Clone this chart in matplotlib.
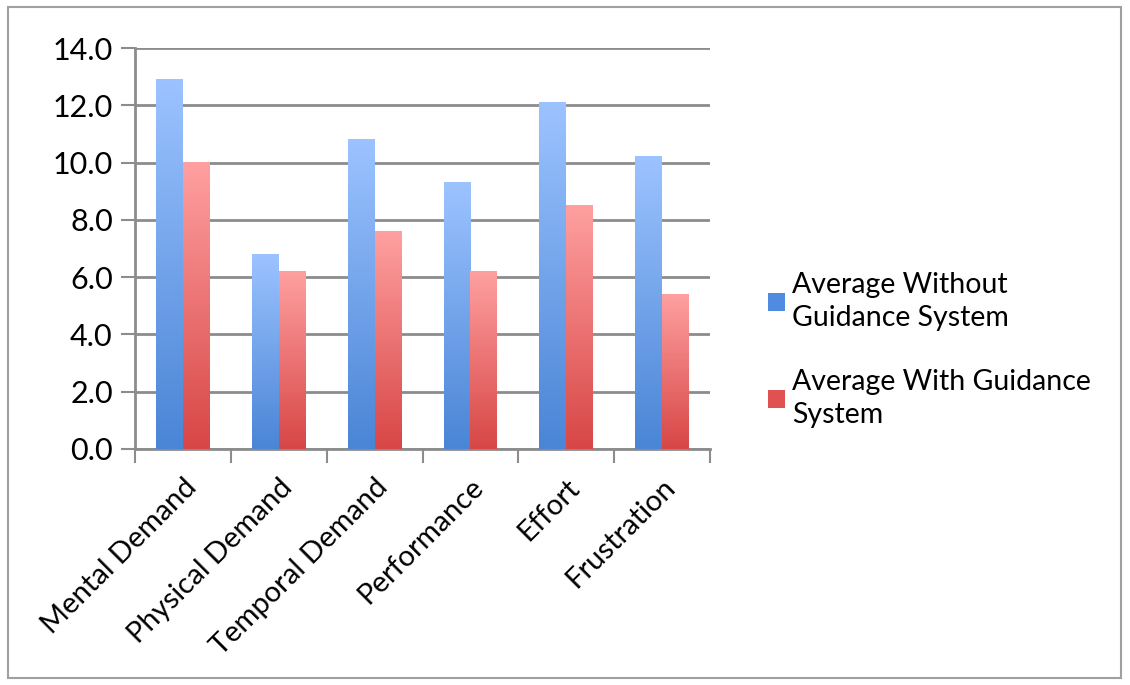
import numpy as np
import matplotlib
matplotlib.use("Agg")
import matplotlib.pyplot as plt
from matplotlib.patches import Rectangle, Patch
from matplotlib.colors import to_rgb

categories = ["Mental Demand", "Physical Demand", "Temporal Demand",
              "Performance", "Effort", "Frustration"]
without_guidance = [12.9, 6.8, 10.8, 9.3, 12.1, 10.2]
with_guidance = [10.0, 6.2, 7.6, 6.2, 8.5, 5.4]
series_labels = ["Average Without\nGuidance System",
                 "Average With Guidance\nSystem"]
yticks = [0, 2, 4, 6, 8, 10, 12, 14]

plt.rcParams['font.family'] = ['Lato', 'DejaVu Sans']

blue_top, blue_bot = "#9cc3ff", "#4a85d6"
red_top, red_bot = "#ffa0a0", "#d84646"
grid_col = "#8c8c8c"


def gradient_bars(ax, bars, top, bottom):
    c0 = np.array(to_rgb(bottom))
    c1 = np.array(to_rgb(top))
    t = np.linspace(0, 1, 200)[:, None, None]
    img = c0 + (c1 - c0) * t
    for b in bars:
        x0 = b.get_x()
        w = b.get_width()
        h = b.get_height()
        b.set_facecolor("none")
        b.set_edgecolor("none")
        ax.imshow(img, extent=[x0, x0 + w, 0, h], origin="lower",
                  aspect="auto", zorder=3, interpolation="bilinear")


fig = plt.figure(figsize=(11.3, 6.85), dpi=100)
ax = fig.add_axes([135 / 1130, 1 - 449 / 685, 575 / 1130, 401 / 685])

x = np.arange(len(categories))
w = 0.28
b1 = ax.bar(x - w / 2, without_guidance, w, zorder=3)
b2 = ax.bar(x + w / 2, with_guidance, w, zorder=3)
gradient_bars(ax, b1, blue_top, blue_bot)
gradient_bars(ax, b2, red_top, red_bot)

ax.set_xlim(-0.5, len(categories) - 0.5)
ax.set_ylim(0, 14)
ax.set_yticks(yticks)
ax.set_yticklabels([f"{v:.1f}" for v in yticks], fontsize=22)
ax.yaxis.grid(True, color=grid_col, linewidth=2, zorder=0)
ax.set_axisbelow(True)

ax.set_xticks(np.arange(len(categories) + 1) - 0.5)
ax.set_xticklabels([])
ax.set_xticks(x, minor=True)
ax.set_xticklabels(categories, minor=True, rotation=45, ha="right",
                   va="top", rotation_mode="anchor", fontsize=21)
ax.tick_params(axis="x", which="minor", length=0, pad=18)
ax.tick_params(axis="x", which="major", length=10, width=1.5, color=grid_col)
ax.tick_params(axis="y", length=10, width=1.5, color=grid_col, pad=6)

for s in ["top", "right"]:
    ax.spines[s].set_visible(False)
for s in ["left", "bottom"]:
    ax.spines[s].set_color(grid_col)
    ax.spines[s].set_linewidth(2)

handles = [Patch(facecolor="#4f8be0", edgecolor="none"),
           Patch(facecolor="#e05252", edgecolor="none")]
leg = fig.legend(handles, series_labels, loc="center left",
                 bbox_to_anchor=(768 / 1130, 1 - 350 / 685), frameon=False,
                 fontsize=20.5, handlelength=0.6, handleheight=0.6,
                 handletextpad=0.25, labelspacing=1.3, borderpad=0,
                 borderaxespad=0)
for t in leg.get_texts():
    t.set_linespacing(1.35)

fig.patches.append(Rectangle((8 / 1130, 7 / 685), 1113 / 1130, 671 / 685,
                             transform=fig.transFigure, fill=False,
                             edgecolor="#a0a0a0", linewidth=1.5))

fig.savefig("out.png", dpi=100)
